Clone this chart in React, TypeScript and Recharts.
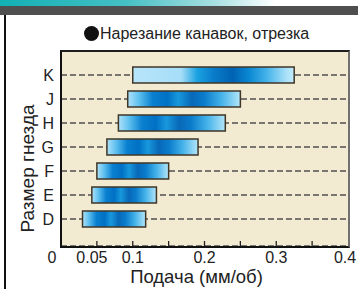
import React from "react";
import { BarChart, Bar, XAxis, YAxis, CartesianGrid, Cell } from "recharts";

const sizes = ["K", "J", "H", "G", "F", "E", "D"];
const feedMin = [0.1, 0.093, 0.08, 0.064, 0.05, 0.043, 0.03];
const feedMax = [0.325, 0.25, 0.229, 0.191, 0.15, 0.133, 0.118];
const xTicks = [0, 0.05, 0.1, 0.15, 0.2, 0.25, 0.3, 0.35, 0.4];
const xLabels = ["0", "0.05", "0.1", "", "0.2", "", "0.3", "", "0.4"];
const title = "Нарезание канавок, отрезка";
const xTitle = "Подача (мм/об)";
const yTitle = "Размер гнезда";

const data = sizes.map((s, i) => ({ size: s, range: [feedMin[i], feedMax[i]] }));

const FONT = "'Liberation Sans', Arial, sans-serif";

const XTick = (props: any) => {
  const { x, y, payload } = props;
  const v = payload.value;
  const label = xLabels[xTicks.indexOf(v)] ?? "";
  const interior = v > 0 && v < 0.4;
  const dx = v === 0 ? -9 : v === 0.05 ? -5 : v === 0.4 ? -3 : 0;
  return (
    <g>
      {interior && <line x1={x} x2={x} y1={y} y2={y - 5} stroke="#222" strokeWidth={1.3} />}
      {label && (
        <text x={x + dx} y={y + 17} textAnchor="middle" fontSize={16} fill="#222" fontFamily={FONT}>
          {label}
        </text>
      )}
    </g>
  );
};

export default function App() {
  return (
    <div style={{ position: "absolute", left: 0, top: 0, width: 358, height: 289, background: "#fff", overflow: "hidden", fontFamily: FONT }}>
      <div style={{ position: "absolute", left: 0, top: 0, width: 358, height: 6, background: "linear-gradient(to right, #12b0b4 0%, #45c0c4 35%, #a8dfe2 60%, #e6f6f7 72%, #ffffff 77%)" }} />
      <div style={{ position: "absolute", left: 0, top: 6, width: 358, height: 9, background: "#4f4f4f" }} />
      <div style={{ position: "absolute", left: 4, top: 15, width: 2, height: 274, background: "#111" }} />
      <div style={{ position: "absolute", left: 84, top: 26, width: 15, height: 15, borderRadius: "50%", background: "#111" }} />
      <div style={{ position: "absolute", left: 100, top: 24, fontSize: 16, color: "#222", whiteSpace: "nowrap", lineHeight: "20px" }}>{title}</div>
      <div style={{ position: "absolute", left: 0, top: 0 }}>
        <BarChart
          width={358}
          height={289}
          data={data}
          layout="vertical"
          margin={{ top: 51, right: 10, left: 0, bottom: 0 }}
          barSize={16}
        >
          <defs>
            <linearGradient id="gradK" x1="0" y1="0" x2="1" y2="0">
              <stop offset="0" stopColor="#b8e6fb" />
              <stop offset="0.3" stopColor="#a6ddf8" />
              <stop offset="0.4" stopColor="#1aa2e2" />
              <stop offset="0.5" stopColor="#0a7cc9" />
              <stop offset="0.62" stopColor="#0062b2" />
              <stop offset="0.72" stopColor="#0a88d2" />
              <stop offset="0.83" stopColor="#45b3ea" />
              <stop offset="0.95" stopColor="#a8e0f8" />
              <stop offset="1" stopColor="#c4edfc" />
            </linearGradient>
            <linearGradient id="gradB" x1="0" y1="0" x2="1" y2="0">
              <stop offset="0" stopColor="#b0e2f9" />
              <stop offset="0.1" stopColor="#5ec0ef" />
              <stop offset="0.22" stopColor="#0a80d0" />
              <stop offset="0.35" stopColor="#0070c4" />
              <stop offset="0.45" stopColor="#1898dc" />
              <stop offset="0.57" stopColor="#0868b8" />
              <stop offset="0.68" stopColor="#0a7ccb" />
              <stop offset="0.83" stopColor="#44b2e9" />
              <stop offset="1" stopColor="#b4e6fa" />
            </linearGradient>
          </defs>
          <CartesianGrid
            vertical={false}
            horizontal={true}
            strokeDasharray="6 3"
            stroke="#505050"
            strokeWidth={1.3}
            fill="#f2ebd1"
            fillOpacity={1}
          />
          <XAxis
            type="number"
            domain={[0, 0.4]}
            ticks={xTicks}
            interval={0}
            height={43}
            tickSize={0}
            tickMargin={0}
            tickLine={false}
            axisLine={false}
            tick={<XTick />}
            label={{ value: xTitle, position: "insideBottom", offset: 6, dx: -8, fontSize: 18.5, fill: "#222", fontFamily: FONT }}
          />
          <YAxis
            type="category"
            dataKey="size"
            width={61}
            padding={{ top: 12, bottom: 15 }}
            tickSize={0}
            tickMargin={7}
            tickLine={false}
            axisLine={false}
            tick={{ fontSize: 16, fill: "#222", fontFamily: FONT }}
            label={{ value: yTitle, angle: -90, position: "insideLeft", offset: 27, dy: 20, fontSize: 19, fill: "#222", fontFamily: FONT, style: { textAnchor: "middle" } }}
          />
          <Bar dataKey="range" isAnimationActive={false} stroke="#3f3628" strokeWidth={1.5}>
            {data.map((d, i) => (
              <Cell key={d.size} fill={i === 0 ? "url(#gradK)" : "url(#gradB)"} />
            ))}
          </Bar>
        </BarChart>
      </div>
      <div style={{ position: "absolute", left: 60, top: 50, width: 286, height: 194, borderTop: "2px solid #1e1e1e", borderLeft: "2px solid #111", borderBottom: "2px solid #111", borderRight: "2px solid #707070", pointerEvents: "none" }} />
    </div>
  );
}
